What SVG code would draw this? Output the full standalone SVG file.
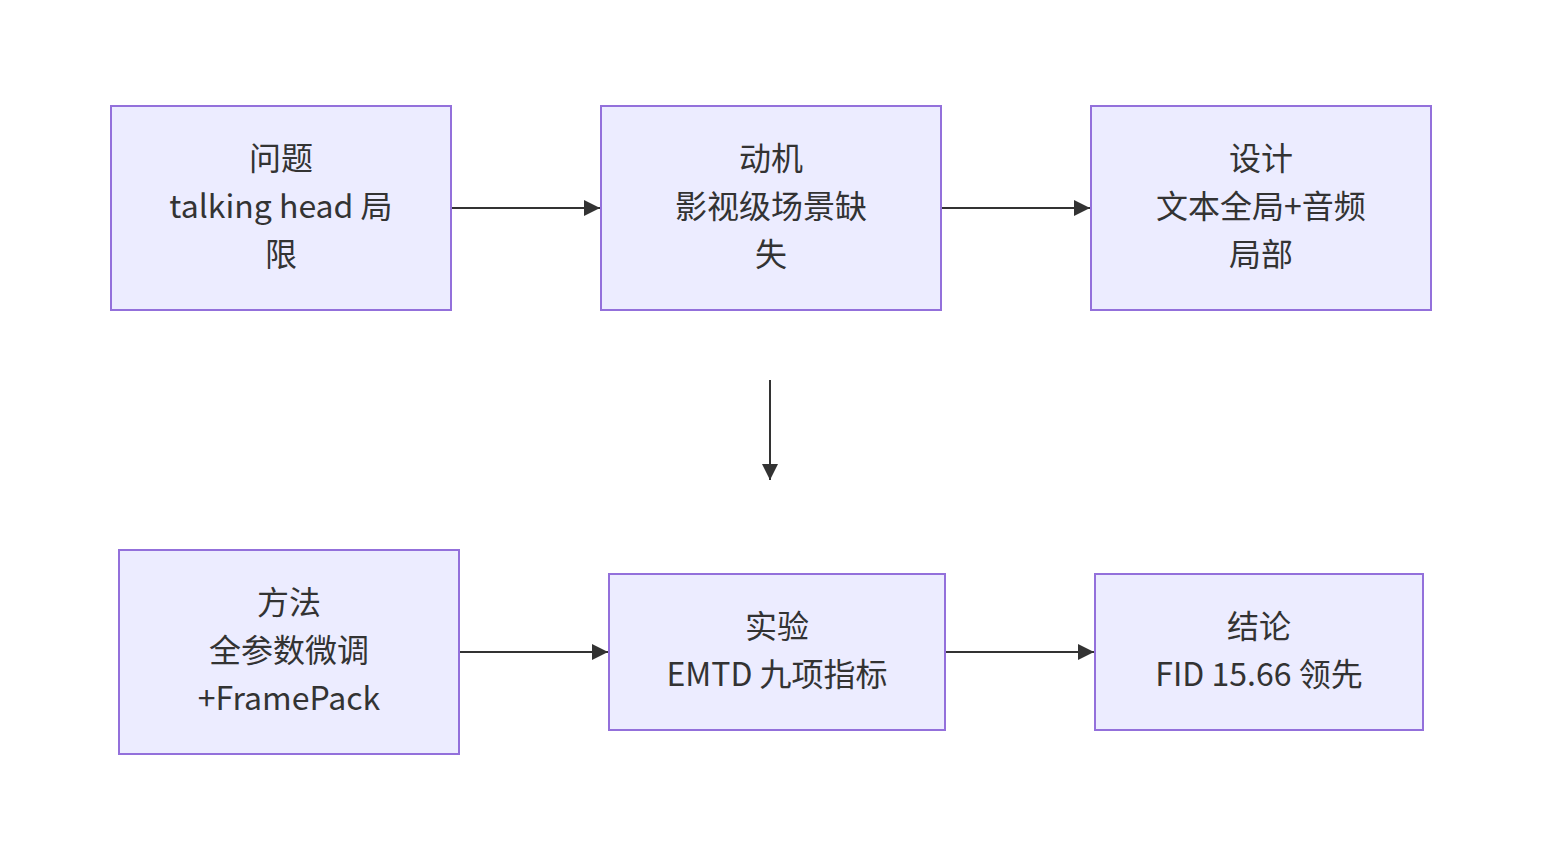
<svg xmlns="http://www.w3.org/2000/svg" width="1542" height="860" viewBox="0 0 1542 860">
<style>
.node rect{fill:#ECECFF;stroke:#9370DB;stroke-width:2}
.node text{font-family:"Noto Sans CJK SC","Noto Sans",sans-serif;font-size:32px;fill:#333;text-anchor:middle;dominant-baseline:central}
.edge{stroke:#333;stroke-width:2;fill:none;marker-end:url(#arr)}
</style>
<defs>
<marker id="arr" viewBox="0 0 10 10" refX="10" refY="5" markerWidth="16" markerHeight="16" markerUnits="userSpaceOnUse" orient="auto">
<path d="M0,0 L10,5 L0,10 z" fill="#333"/>
</marker>
</defs>
<rect width="1542" height="860" fill="#fff"/>
<g id="edges">
<line class="edge" x1="452" y1="208" x2="600" y2="208"/>
<line class="edge" x1="942" y1="208" x2="1090" y2="208"/>
<line class="edge" x1="770" y1="380" x2="770" y2="480"/>
<line class="edge" x1="460" y1="652" x2="608" y2="652"/>
<line class="edge" x1="946" y1="652" x2="1094" y2="652"/>
</g>
<g id="n1" class="node"><rect x="111" y="106" width="340" height="204"/>
<text x="281" y="156">问题</text><text x="281" y="204">talking head 局</text><text x="281" y="252">限</text></g>
<g id="n2" class="node"><rect x="601" y="106" width="340" height="204"/>
<text x="771" y="156">动机</text><text x="771" y="204">影视级场景缺</text><text x="771" y="252">失</text></g>
<g id="n3" class="node"><rect x="1091" y="106" width="340" height="204"/>
<text x="1261" y="156">设计</text><text x="1261" y="204">文本全局+音频</text><text x="1261" y="252">局部</text></g>
<g id="n4" class="node"><rect x="119" y="550" width="340" height="204"/>
<text x="289" y="600">方法</text><text x="289" y="648">全参数微调</text><text x="289" y="696">+FramePack</text></g>
<g id="n5" class="node"><rect x="609" y="574" width="336" height="156"/>
<text x="777" y="624">实验</text><text x="777" y="672">EMTD 九项指标</text></g>
<g id="n6" class="node"><rect x="1095" y="574" width="328" height="156"/>
<text x="1259" y="624">结论</text><text x="1259" y="672">FID 15.66 领先</text></g>
</svg>
